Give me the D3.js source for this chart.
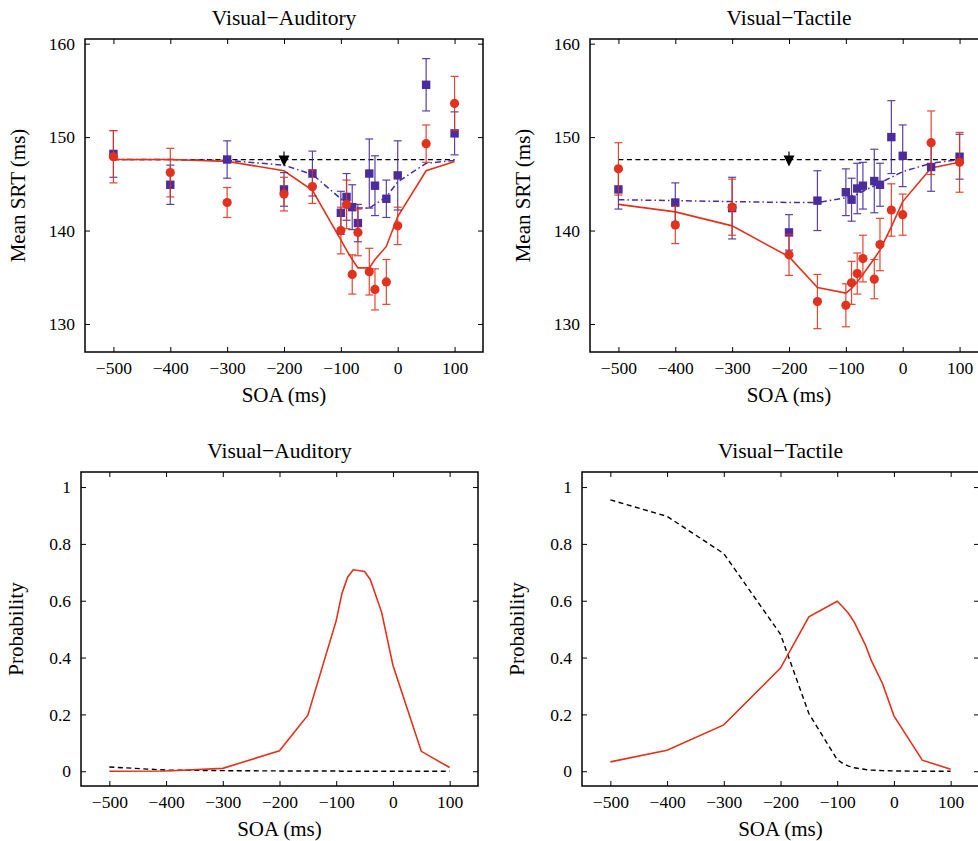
<!DOCTYPE html>
<html>
<head>
<meta charset="utf-8">
<script src="https://cdn.jsdelivr.net/npm/d3@7"></script>
<style>
  body { margin: 0; background: #fff; }
  text { font-family: "Liberation Serif", "Times New Roman", Times, "Nimbus Roman", "Nimbus Roman No9 L", FreeSerif, "Noto Serif", "DejaVu Serif", Tinos, serif !important; }
</style>
</head>
<body>
<div id="chart"></div>
<script>
// DATA
const soa = [-500, -400, -300, -200, -150, -100, -90, -80, -70, -50, -40, -20, 0, 50, 100];

// visual-auditory, mean SRT
const vaRedMean  = [147.9, 146.2, 143.0, 143.9, 144.7, 140.0, 142.8, 135.3, 139.8, 135.6, 133.7, 134.5, 140.5, 149.3, 153.6];
const vaRedErr   = [2.8, 2.6, 1.6, 1.8, 1.8, 2.5, 2.6, 2.1, 2.5, 2.5, 2.2, 2.4, 2.0, 2.0, 2.9];
const vaBlueMean = [148.2, 144.9, 147.6, 144.4, 146.1, 141.9, 143.6, 142.5, 140.8, 146.1, 144.8, 143.4, 145.9, 155.6, 150.4];
const vaBlueErr  = [2.5, 2.1, 2.0, 1.8, 2.4, 2.3, 2.5, 2.4, 2.0, 3.7, 3.2, 2.0, 3.7, 2.8, 2.3];
const vaRedModel  = [147.6, 147.6, 147.4, 146.4, 144.3, 139.0, 137.9, 136.9, 136.0, 136.0, 136.9, 138.3, 141.5, 146.4, 147.4];
const vaBlueModel = [147.6, 147.6, 147.5, 147.0, 146.0, 143.4, 143.0, 142.7, 142.4, 142.4, 142.8, 143.6, 145.2, 147.2, 147.5];

// visual-tactile, mean SRT
const vtRedMean  = [146.6, 140.6, 142.5, 137.4, 132.4, 132.0, 134.4, 135.4, 137.0, 134.8, 138.5, 142.2, 141.7, 149.4, 147.3];
const vtRedErr   = [2.8, 2.0, 3.0, 2.2, 2.9, 2.3, 2.3, 2.2, 2.5, 2.1, 2.8, 2.8, 2.2, 3.4, 3.2];
const vtBlueMean = [144.4, 143.0, 142.4, 139.8, 143.2, 144.1, 143.3, 144.5, 144.8, 145.3, 144.9, 150.0, 148.0, 146.8, 147.9];
const vtBlueErr  = [2.1, 2.1, 3.3, 1.9, 3.2, 2.5, 2.3, 2.7, 2.5, 3.4, 2.3, 3.9, 3.3, 2.6, 2.4];
const vtRedModel  = [142.8, 142.0, 140.5, 137.2, 133.9, 133.3, 133.8, 134.5, 135.3, 137.0, 137.9, 140.4, 143.1, 146.7, 147.3];
const vtBlueModel = [143.3, 143.2, 143.1, 143.0, 143.0, 143.5, 143.7, 143.9, 144.2, 144.8, 145.1, 145.7, 146.3, 147.2, 147.6];

const baselineSRT = 147.6;
const arrowSoa = -200;

// probabilities
const vaProbRed   = [0.0, 0.001, 0.01, 0.072, 0.197, 0.53, 0.625, 0.683, 0.709, 0.703, 0.675, 0.56, 0.373, 0.07, 0.013];
const vaProbBlack = [0.015, 0.004, 0.002, 0.001, 0.001, 0.001, 0, 0, 0, 0, 0, 0, 0, 0, 0];
const vtProbRed   = [0.033, 0.074, 0.163, 0.363, 0.543, 0.598, 0.578, 0.555, 0.525, 0.443, 0.39, 0.308, 0.195, 0.039, 0.007];
const vtProbBlack = [0.955, 0.897, 0.766, 0.482, 0.203, 0.041, 0.027, 0.018, 0.012, 0.006, 0.004, 0.002, 0.001, 0, 0];

const xTicks = [-500, -400, -300, -200, -100, 0, 100];
const srtTicks = [130, 140, 150, 160];
const probTicks = [0, 0.2, 0.4, 0.6, 0.8, 1];

const red = "#e0321c";
const blue = "#4b2c9c";

const svg = d3.select("#chart").append("svg")
    .attr("width", 978)
    .attr("height", 841);

const fmtX = d => d < 0 ? "\u2212" + (-d) : String(d);
const fmtProb = d => (d === 0 || d === 1) ? String(d) : d.toFixed(1);

// frame with inward ticks on all four sides
function frame(g, x, y, w, h, yTicks, yFmt, title, yLabel) {
    g.append("g")
        .attr("transform", `translate(0,${h})`)
        .call(d3.axisBottom(x).tickValues(xTicks).tickFormat(fmtX).tickSizeInner(-5).tickSizeOuter(0).tickPadding(10))
        .call(a => a.select(".domain").remove())
        .selectAll("text").style("font-size", "17.5px").attr("fill", "#000");
    g.append("g")
        .call(d3.axisTop(x).tickValues(xTicks).tickFormat("").tickSizeInner(-5).tickSizeOuter(0))
        .call(a => a.select(".domain").remove());
    g.append("g")
        .call(d3.axisLeft(y).tickValues(yTicks).tickFormat(yFmt).tickSizeInner(-5).tickSizeOuter(0).tickPadding(10))
        .call(a => a.select(".domain").remove())
        .selectAll("text").style("font-size", "17.5px").attr("fill", "#000");
    g.append("g")
        .attr("transform", `translate(${w},0)`)
        .call(d3.axisRight(y).tickValues(yTicks).tickFormat("").tickSizeInner(-5).tickSizeOuter(0))
        .call(a => a.select(".domain").remove());
    g.selectAll(".tick line").attr("stroke", "#000").attr("stroke-width", 1);

    g.append("rect")
        .attr("width", w).attr("height", h)
        .attr("fill", "none").attr("stroke", "#000").attr("stroke-width", 1.5);

    g.append("text")
        .attr("x", w / 2).attr("y", -14)
        .attr("text-anchor", "middle")
        .style("font-size", "21.5px")
        .text(title);

    g.append("text")
        .attr("x", w / 2).attr("y", h + 50)
        .attr("text-anchor", "middle")
        .style("font-size", "21px")
        .text("SOA (ms)");

    g.append("text")
        .attr("transform", `translate(${yLabel.dx},${h / 2}) rotate(-90)`)
        .attr("text-anchor", "middle")
        .style("font-size", "21px")
        .text(yLabel.text);
}

function srtPanel(p) {
    const g = svg.append("g").attr("transform", `translate(${p.left},${p.top})`);
    const x = d3.scaleLinear().domain([-550, 150]).range([0, p.w]);
    const y = d3.scaleLinear().domain([127, 160.5]).range([p.h, 0]);

    const plot = g.append("g");
    const line = d3.line().x((d, i) => x(soa[i])).y(d => y(d));

    // baseline
    plot.append("path")
        .attr("d", d3.line()([[x(-500), y(baselineSRT)], [x(100), y(baselineSRT)]]))
        .attr("fill", "none").attr("stroke", "#000").attr("stroke-width", 1.3)
        .attr("stroke-dasharray", "5,3.5");

    plot.append("path")
        .attr("d", line(p.blueModel))
        .attr("fill", "none").attr("stroke", blue).attr("stroke-width", 1.5)
        .attr("stroke-dasharray", "6,3,1.5,3");

    plot.append("path")
        .attr("d", line(p.redModel))
        .attr("fill", "none").attr("stroke", red).attr("stroke-width", 1.6);

    const series = [
        { mean: p.blueMean, err: p.blueErr, color: blue, shape: "square" },
        { mean: p.redMean, err: p.redErr, color: red, shape: "circle" }
    ];

    series.forEach(s => {
        const pts = s.mean.map((m, i) => ({ soa: soa[i], m, e: s.err[i] }));
        const eb = plot.append("g").attr("stroke", s.color).attr("stroke-width", 1.2).attr("opacity", 0.9);
        eb.selectAll("line.v").data(pts).enter().append("line")
            .attr("x1", d => x(d.soa)).attr("x2", d => x(d.soa))
            .attr("y1", d => y(d.m - d.e)).attr("y2", d => y(d.m + d.e));
        eb.selectAll("line.t").data(pts).enter().append("line")
            .attr("x1", d => x(d.soa) - 4).attr("x2", d => x(d.soa) + 4)
            .attr("y1", d => y(d.m + d.e)).attr("y2", d => y(d.m + d.e));
        eb.selectAll("line.b").data(pts).enter().append("line")
            .attr("x1", d => x(d.soa) - 4).attr("x2", d => x(d.soa) + 4)
            .attr("y1", d => y(d.m - d.e)).attr("y2", d => y(d.m - d.e));

        if (s.shape === "circle") {
            plot.selectAll(null).data(pts).enter().append("circle")
                .attr("cx", d => x(d.soa)).attr("cy", d => y(d.m))
                .attr("r", 4.6).attr("fill", s.color);
        } else {
            plot.selectAll(null).data(pts).enter().append("rect")
                .attr("x", d => x(d.soa) - 4.2).attr("y", d => y(d.m) - 4.2)
                .attr("width", 8.4).attr("height", 8.4).attr("fill", s.color);
        }
    });

    // arrow marker at the baseline
    const ax = x(arrowSoa), ay = y(baselineSRT);
    plot.append("line")
        .attr("x1", ax).attr("x2", ax).attr("y1", ay - 8).attr("y2", ay + 2)
        .attr("stroke", "#000").attr("stroke-width", 1.2);
    plot.append("path")
        .attr("d", `M${ax - 5.5},${ay - 4}L${ax + 5.5},${ay - 4}L${ax},${ay + 7}Z`)
        .attr("fill", "#000");

    frame(g, x, y, p.w, p.h, srtTicks, d => d, p.title, { text: "Mean SRT (ms)", dx: -60 });
}

function probPanel(p) {
    const g = svg.append("g").attr("transform", `translate(${p.left},${p.top})`);
    const x = d3.scaleLinear().domain([-550, 150]).range([0, p.w]);
    const y = d3.scaleLinear().domain([-0.052, 1.053]).range([p.h, 0]);
    const line = d3.line().x((d, i) => x(soa[i])).y(d => y(d));

    g.append("path")
        .attr("d", line(p.black))
        .attr("fill", "none").attr("stroke", "#000").attr("stroke-width", 1.4)
        .attr("stroke-dasharray", "5,3.5");
    g.append("path")
        .attr("d", line(p.red))
        .attr("fill", "none").attr("stroke", red).attr("stroke-width", 1.6);

    frame(g, x, y, p.w, p.h, probTicks, fmtProb, p.title, { text: "Probability", dx: -58 });
}

srtPanel({ left: 85, top: 39, w: 398, h: 313, title: "Visual\u2212Auditory",
    redMean: vaRedMean, redErr: vaRedErr, blueMean: vaBlueMean, blueErr: vaBlueErr,
    redModel: vaRedModel, blueModel: vaBlueModel });
srtPanel({ left: 590, top: 39, w: 398, h: 313, title: "Visual\u2212Tactile",
    redMean: vtRedMean, redErr: vtRedErr, blueMean: vtBlueMean, blueErr: vtBlueErr,
    redModel: vtRedModel, blueModel: vtBlueModel });

probPanel({ left: 81, top: 472, w: 397, h: 314, title: "Visual\u2212Auditory", red: vaProbRed, black: vaProbBlack });
probPanel({ left: 582, top: 472, w: 397, h: 314, title: "Visual\u2212Tactile", red: vtProbRed, black: vtProbBlack });
</script>
</body>
</html>
